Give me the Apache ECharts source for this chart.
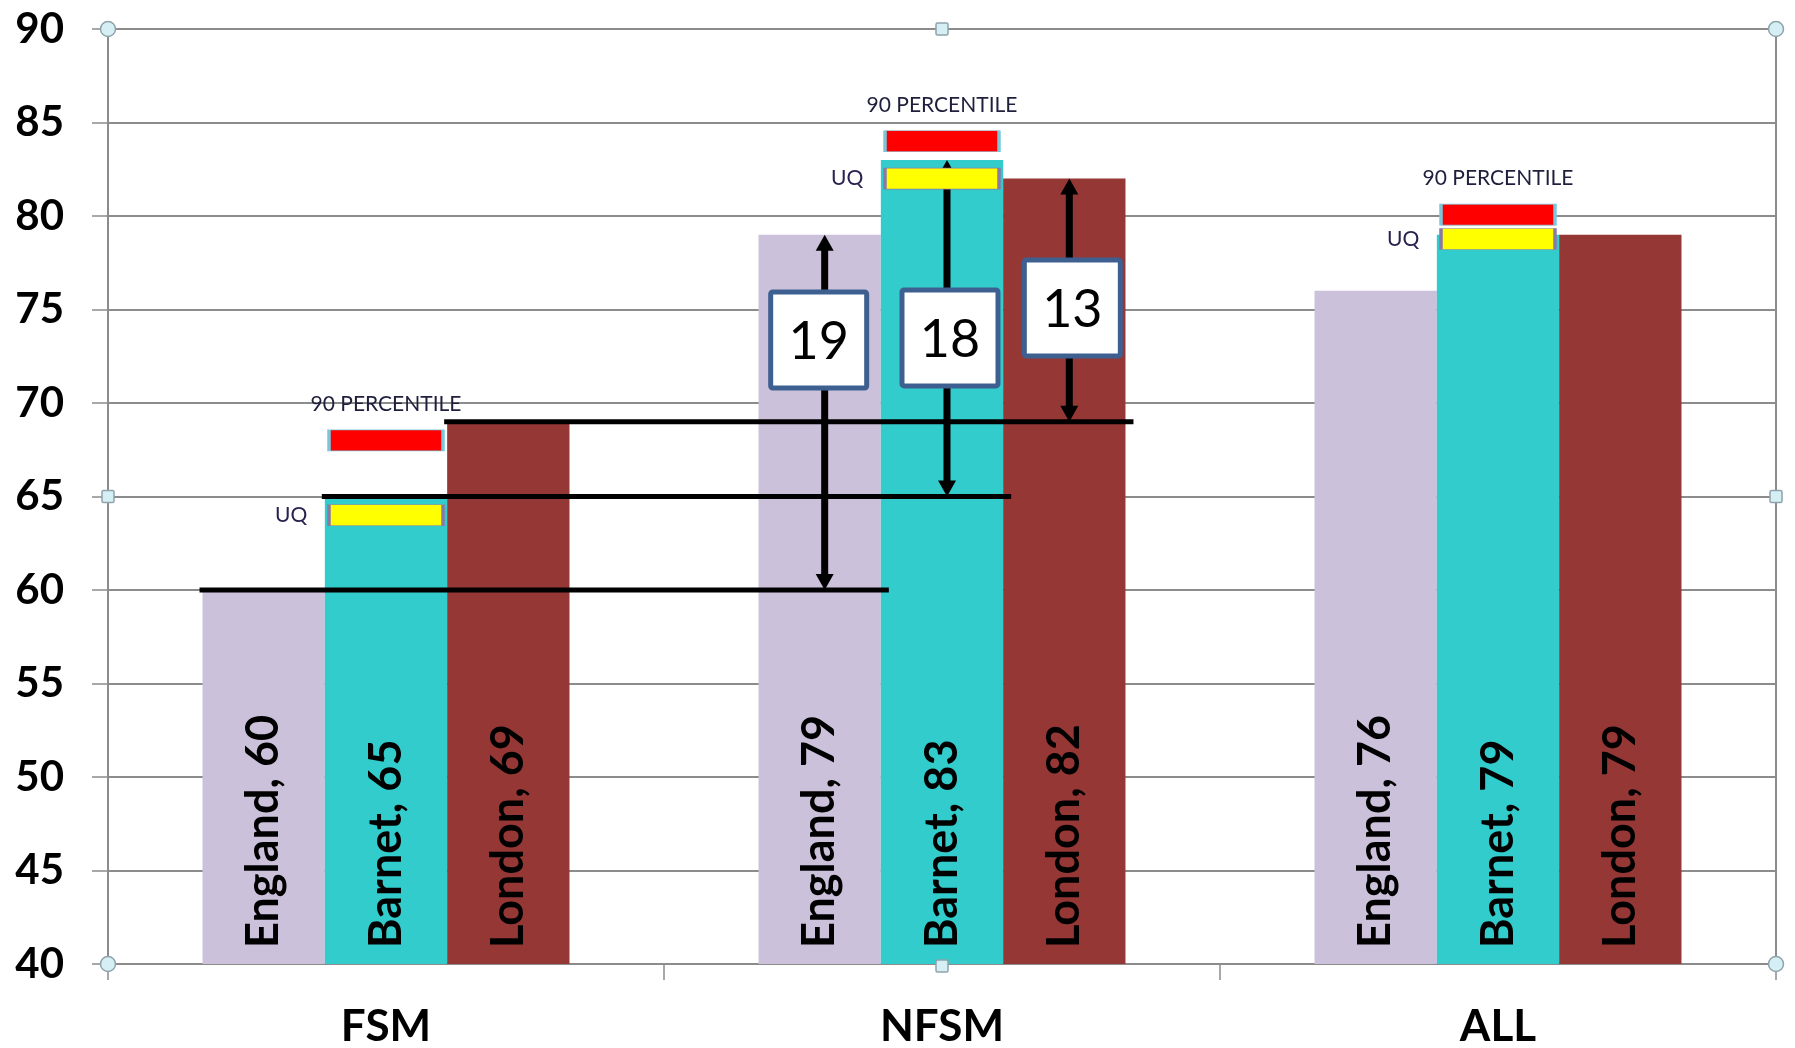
<!DOCTYPE html>
<html>
<head>
<meta charset="utf-8">
<script src="https://cdn.jsdelivr.net/npm/echarts@6/dist/echarts.min.js"></script>
<style>
html,body{margin:0;padding:0;background:#fff;}
#chart{width:1795px;height:1048px;}
</style>
</head>
<body>
<div id="chart"></div>
<script>
// ---- data ----
const categories = ['FSM', 'NFSM', 'ALL'];
const seriesNames = ['England', 'Barnet', 'London'];
const england = [60, 79, 76];
const barnet = [65, 83, 79];
const london = [69, 82, 79];
const percentile90 = [68, 84, 80.07];
const upperQuartile = [64, 82, 78.77];
// gap boxes: FSM value -> NFSM value for each area, box centre value
const gapBoxCentre = [73.37, 73.48, 75.08];
const yTicks = [40, 45, 50, 55, 60, 65, 70, 75, 80, 85, 90];

// ---- layout / style ----
const GRID = {left: 108, right: 19, top: 29, bottom: 84};
const W = 1795, H = 1048;
const CAT_GAP = 0.34;
const colors = ['#CCC1DA', '#33CCCC', '#953735'];
const gridColor = '#8c8c8c';

const seriesData = [england, barnet, london];
const gapData = seriesNames.map((n, i) => [i, seriesData[i][0], seriesData[i][1], gapBoxCentre[i]]);

function renderGap(params, api) {
  const s = api.value(0), v0 = api.value(1), v1 = api.value(2), vb = api.value(3);
  const band = api.size([1, 0])[0];
  const barW = band * (1 - CAT_GAP) / 3;
  const off = (s - 1) * barW;
  const fsm = api.coord([0, v0]);
  const nfsm0 = api.coord([1, v0]);
  const nfsm1 = api.coord([1, v1]);
  const box = api.coord([1, vb]);
  const y0 = fsm[1], y1 = nfsm1[1];
  const x1 = fsm[0] + off - barW / 2 - 3;
  const x2 = nfsm0[0] + off + barW / 2 + 8;
  const ax = nfsm0[0] + off + 5;
  const bx = ax + (s === 0 ? -6 : 3);
  const headW = 9, headL = 16;
  const children = [
    {type: 'line', shape: {x1: x1, y1: y0, x2: x2, y2: y0}, style: {stroke: '#000', lineWidth: 5}},
    {type: 'line', shape: {x1: ax, y1: y0 - headL + 2, x2: ax, y2: y1 + headL - 2}, style: {stroke: '#000', lineWidth: 7}},
    {type: 'polygon', shape: {points: [[ax, y1], [ax - headW, y1 + headL], [ax + headW, y1 + headL]]}, style: {fill: '#000'}},
    {type: 'polygon', shape: {points: [[ax, y0], [ax - headW, y0 - headL], [ax + headW, y0 - headL]]}, style: {fill: '#000'}},
    {type: 'rect', shape: {x: bx - 48, y: box[1] - 48, width: 96, height: 96, r: 2},
      style: {fill: '#fff', stroke: '#3e6090', lineWidth: 5}},
    {type: 'text', x: bx, y: box[1] + 2,
      style: {text: String(v1 - v0), fontSize: 52, fontFamily: 'Lato', fill: '#000', align: 'center', verticalAlign: 'middle'}}
  ];
  return {type: 'group', children: children};
}

const chart = echarts.init(document.getElementById('chart'), null, {renderer: 'canvas'});

const barSeries = seriesNames.map((name, i) => ({
  name: name,
  type: 'bar',
  data: seriesData[i],
  barGap: '0%',
  barCategoryGap: '34%',
  itemStyle: {color: colors[i]},
  z: 2,
  label: {
    show: true,
    position: 'insideBottom',
    rotate: 90,
    align: 'left',
    verticalAlign: 'middle',
    distance: 16,
    formatter: '{a}, {c}',
    fontFamily: 'Lato',
    fontWeight: 'bold',
    fontSize: 45,
    color: '#000'
  }
}));

const option = {
  animation: false,
  backgroundColor: '#fff',
  grid: Object.assign({show: true, borderColor: gridColor, borderWidth: 2, containLabel: false, outerBoundsMode: 'none'}, GRID),
  xAxis: {
    type: 'category',
    data: categories,
    axisLine: {lineStyle: {color: gridColor, width: 2}},
    axisTick: {show: true, length: 16, lineStyle: {color: gridColor, width: 1.5}},
    axisLabel: {margin: 41, fontFamily: 'Lato', fontWeight: 'bold', fontSize: 44, color: '#000'}
  },
  yAxis: {
    type: 'value',
    min: yTicks[0],
    max: yTicks[yTicks.length - 1],
    interval: 5,
    axisLine: {show: true, lineStyle: {color: gridColor, width: 2}},
    axisTick: {show: true, length: 16, lineStyle: {color: gridColor, width: 1.5}},
    splitLine: {lineStyle: {color: gridColor, width: 2}},
    axisLabel: {margin: 44, fontFamily: 'Lato', fontWeight: 'bold', fontSize: 42, color: '#000'}
  },
  series: barSeries.concat([
    {
      name: 'gaps',
      type: 'custom',
      renderItem: renderGap,
      data: gapData,
      encode: {x: 0, y: 1},
      z: 5,
      silent: true
    },
    {
      name: '90 PERCENTILE',
      type: 'scatter',
      data: percentile90,
      symbol: 'rect',
      symbolSize: [114, 21],
      itemStyle: {color: '#FF0000', borderColor: '#78c8dc', borderWidth: 1.5, opacity: 1},
      z: 6,
      label: {show: true, position: 'top', distance: 15, formatter: '90 PERCENTILE',
        fontFamily: 'Lato', fontSize: 21, color: '#1f1f3d'}
    },
    {
      name: 'UQ',
      type: 'scatter',
      data: upperQuartile,
      symbol: 'rect',
      symbolSize: [114, 21],
      itemStyle: {color: '#FFFF00', borderColor: '#8a78a8', borderWidth: 1.5, opacity: 1},
      z: 6,
      label: {show: true, position: 'left', distance: 20, formatter: 'UQ',
        fontFamily: 'Lato', fontSize: 21, color: '#2a2050'}
    }
  ])
};
chart.setOption(option);

// selection handles of the plot area (decoration)
const L = GRID.left, R = W - GRID.right, T = GRID.top, B = H - GRID.bottom;
const cx = (L + R) / 2, cy = (T + B) / 2;
const handleStyle = {fill: '#d6eff5', stroke: '#8fa3ab', lineWidth: 1.5};
const circles = [[L, T], [R, T], [L, B], [R, B]].map(p => ({
  type: 'circle', shape: {cx: p[0], cy: p[1], r: 7.5}, style: handleStyle, z: 100
}));
const squares = [[cx, T], [L, cy], [R, cy], [cx, B + 2]].map(p => ({
  type: 'rect', shape: {x: p[0] - 6, y: p[1] - 6, width: 12, height: 12, r: 1.5}, style: handleStyle, z: 100
}));
chart.setOption({graphic: circles.concat(squares)});
</script>
</body>
</html>
